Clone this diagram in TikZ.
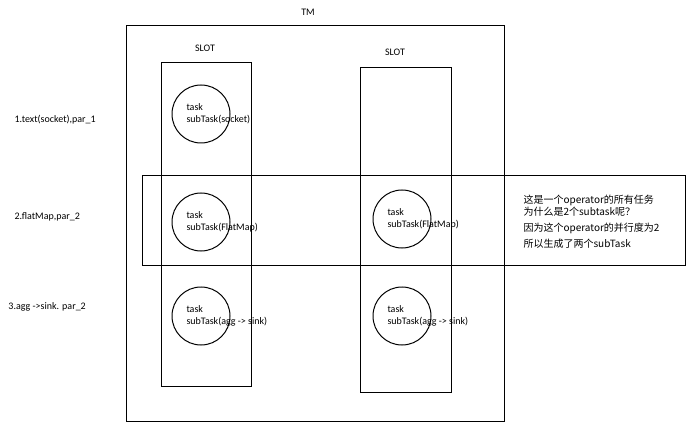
\documentclass[tikz,border=0pt]{standalone}
\usepackage{fontspec}
\setmainfont{Carlito}
\newfontfamily\cjk{Noto Sans CJK SC}
\begin{document}
\begin{tikzpicture}[x=1pt,y=-1pt,line width=1pt,
  every node/.style={font=\fontsize{10}{12}\selectfont},
  task/.style={draw,circle,minimum size=58pt,inner sep=0pt},
  tasktext/.style={anchor=west,align=left,inner sep=0pt},
  oplabel/.style={anchor=west,inner sep=0pt}]
  \useasboundingbox (0,0) rectangle (692,427);
  % TM and slots
  \draw (126,26) coordinate (tmnw) rectangle (504,421) coordinate (tmse);
  \draw (161,63) coordinate (s1nw) rectangle (251,386) coordinate (s1se);
  \draw (360,68) coordinate (s2nw) rectangle (451,392) coordinate (s2se);
  % operator with parallelism 2
  \draw (142,176) coordinate (opnw) rectangle (685,265) coordinate (opse);
  \node (tm) at (308,12) {TM};
  \node (slot1) at (205,48) {SLOT};
  \node (slot2) at (395,52) {SLOT};
  % tasks
  \draw
    (201,114) node[task] (t1) {}
    (201,222) node[task] (t2) {}
    (201,316) node[task] (t3) {}
    (402,219) node[task] (t4) {}
    (402,316) node[task] (t5) {};
  \node[tasktext] (t1text) at (186,114) {task\\subTask(socket)};
  \node[tasktext] (t2text) at (186,222) {task\\subTask(FlatMap)};
  \node[tasktext] (t3text) at (186,316) {task\\subTask(agg -> sink)};
  \node[tasktext] (t4text) at (387,219) {task\\subTask(FlatMap)};
  \node[tasktext] (t5text) at (387,316) {task\\subTask(agg -> sink)};
  % operators
  \node[oplabel] (op1) at (14,120) {1.text(socket),par\_1};
  \node[oplabel] (op2) at (14,217) {2.flatMap,par\_2};
  \node[oplabel] (op3) at (8,307) {3.agg ->sink. par\_2};
  \node[anchor=north west,align=left,inner sep=0pt,font=\cjk\fontsize{10}{12}\selectfont] (note) at (523,195)
    {这是一个operator的所有任务\\为什么是2个subtask呢？\\[4pt]因为这个operator的并行度为2\\[4pt]所以生成了两个subTask};
\end{tikzpicture}
\end{document}
